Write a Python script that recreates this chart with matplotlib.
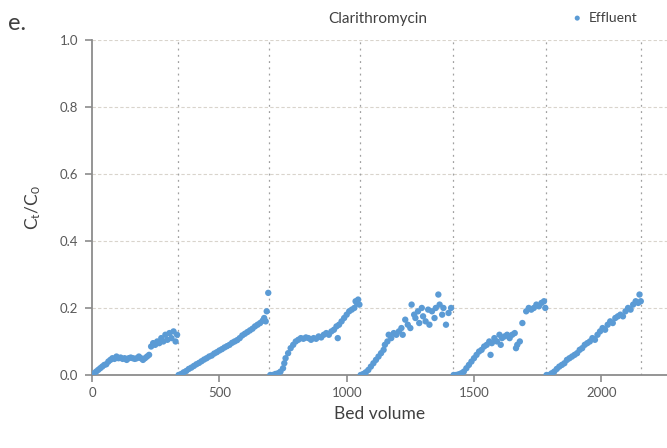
import matplotlib
matplotlib.use("Agg")
import matplotlib.pyplot as plt

plt.rcParams['font.family'] = ['Lato', 'DejaVu Sans']

# Effluent breakthrough for each loading cycle: bed volume and Ct/C0
cycle1_bv = [0, 8, 16, 24, 32, 40, 48, 56, 64, 72, 80, 88, 96, 104, 112, 120, 128, 136, 144, 152,
             160, 168, 176, 184, 192, 200, 208, 216, 224, 232, 240, 248, 256, 264, 272, 280, 288,
             296, 304, 312, 320, 328, 334]
cycle1_c = [0.0, 0.005, 0.01, 0.015, 0.02, 0.025, 0.03, 0.032, 0.04, 0.045, 0.05, 0.048, 0.055,
            0.05, 0.052, 0.048, 0.05, 0.045, 0.05, 0.052, 0.05, 0.048, 0.05, 0.055, 0.05, 0.045,
            0.05, 0.055, 0.06, 0.085, 0.095, 0.09, 0.1, 0.095, 0.11, 0.1, 0.12, 0.105, 0.125, 0.11,
            0.13, 0.1, 0.12]

cycle2_bv = [340, 350, 360, 370, 380, 390, 400, 410, 420, 430, 440, 450, 460, 470, 480, 490, 500,
             510, 520, 530, 540, 550, 560, 570, 580, 590, 600, 610, 620, 630, 640, 650, 660, 670,
             676, 682, 686, 692]
cycle2_c = [0.0, 0.003, 0.008, 0.012, 0.018, 0.022, 0.027, 0.032, 0.036, 0.041, 0.046, 0.05, 0.055,
            0.058, 0.064, 0.068, 0.073, 0.077, 0.082, 0.086, 0.09, 0.096, 0.1, 0.104, 0.11, 0.118,
            0.123, 0.128, 0.133, 0.138, 0.145, 0.15, 0.155, 0.162, 0.17, 0.16, 0.19, 0.245]

cycle3_bv = [700, 710, 720, 730, 740, 750, 755, 760, 770, 780, 790, 800, 810, 820, 830, 840, 850,
             860, 870, 880, 890, 900, 910, 920, 930, 940, 950, 960, 965, 970, 980, 990, 1000, 1010,
             1020, 1030, 1035, 1040, 1045, 1050]
cycle3_c = [0.0, 0.0, 0.003, 0.005, 0.01, 0.02, 0.035, 0.05, 0.065, 0.08, 0.09, 0.1, 0.105, 0.11,
            0.108, 0.112, 0.11, 0.105, 0.11, 0.108, 0.115, 0.112, 0.12, 0.125, 0.12, 0.13, 0.135,
            0.145, 0.11, 0.15, 0.16, 0.17, 0.18, 0.19, 0.195, 0.2, 0.22, 0.215, 0.225, 0.21]

cycle4_bv = [1055, 1065, 1075, 1085, 1095, 1105, 1115, 1125, 1135, 1145, 1150, 1160, 1165, 1175,
             1185, 1195, 1205, 1215, 1220, 1230, 1240, 1250, 1255, 1265, 1270, 1280, 1285, 1295,
             1300, 1310, 1320, 1325, 1335, 1345, 1350, 1360, 1365, 1375, 1380, 1390, 1400, 1410]
cycle4_c = [0.0, 0.003, 0.008, 0.015, 0.025, 0.035, 0.045, 0.055, 0.065, 0.075, 0.09, 0.1, 0.12,
            0.11, 0.125, 0.12, 0.13, 0.14, 0.12, 0.165, 0.15, 0.14, 0.21, 0.18, 0.17, 0.19, 0.155,
            0.2, 0.175, 0.16, 0.195, 0.15, 0.19, 0.17, 0.2, 0.24, 0.21, 0.18, 0.2, 0.15, 0.185, 0.2]

cycle5_bv = [1420, 1430, 1440, 1450, 1460, 1470, 1480, 1490, 1500, 1510, 1520, 1530, 1540, 1550,
             1560, 1565, 1570, 1580, 1590, 1600, 1605, 1610, 1620, 1630, 1640, 1650, 1660, 1665,
             1670, 1680, 1690, 1705, 1715, 1725, 1735, 1745, 1755, 1765, 1775, 1780]
cycle5_c = [0.0, 0.0, 0.002, 0.005, 0.01, 0.02, 0.03, 0.04, 0.05, 0.06, 0.07, 0.075, 0.085, 0.09,
            0.1, 0.06, 0.095, 0.11, 0.1, 0.12, 0.09, 0.11, 0.115, 0.12, 0.11, 0.12, 0.125, 0.08,
            0.09, 0.1, 0.155, 0.19, 0.2, 0.195, 0.2, 0.21, 0.205, 0.215, 0.22, 0.2]

cycle6_bv = [1785, 1795, 1805, 1815, 1825, 1835, 1845, 1855, 1865, 1875, 1885, 1895, 1905, 1915,
             1925, 1935, 1945, 1955, 1965, 1975, 1985, 1995, 2005, 2015, 2025, 2035, 2045, 2055,
             2065, 2075, 2085, 2095, 2105, 2115, 2125, 2135, 2145, 2150, 2155]
cycle6_c = [0.0, 0.0, 0.005, 0.01, 0.018, 0.025, 0.03, 0.035, 0.045, 0.05, 0.055, 0.06, 0.065,
            0.075, 0.08, 0.09, 0.095, 0.1, 0.11, 0.105, 0.12, 0.13, 0.14, 0.135, 0.15, 0.16, 0.155,
            0.17, 0.175, 0.18, 0.175, 0.19, 0.2, 0.195, 0.21, 0.22, 0.215, 0.24, 0.22]

# End of each loading cycle (regeneration points)
cycle_ends = [338, 695, 1052, 1417, 1782, 2155]

bed_volume = cycle1_bv + cycle2_bv + cycle3_bv + cycle4_bv + cycle5_bv + cycle6_bv
ratio = cycle1_c + cycle2_c + cycle3_c + cycle4_c + cycle5_c + cycle6_c

blue = '#5B9BD5'
text_dark = '#404040'
axis_grey = '#8c8c8c'

fig = plt.figure(figsize=(6.67, 4.48), dpi=100)
ax = fig.add_axes([0.138, 0.163, 0.862, 0.748])

for xe in cycle_ends:
    ax.axvline(xe, color='#a0a0a0', lw=0.9, linestyle=(0, (1.5, 3.5)), zorder=1)
for yv in [0.2, 0.4, 0.6, 0.8, 1.0]:
    ax.axhline(yv, color='#d9d4cc', lw=0.8, linestyle=(0, (3, 2)), zorder=0.5)

ax.scatter(bed_volume, ratio, s=21, color=blue, edgecolors='none', zorder=3,
           label='Effluent')

ax.set_xlim(0, 2258)
ax.set_ylim(0, 1.0)
ax.set_xticks([0, 500, 1000, 1500, 2000])
ax.set_yticks([0.0, 0.2, 0.4, 0.6, 0.8, 1.0])
ax.set_yticklabels(['0.0', '0.2', '0.4', '0.6', '0.8', '1.0'])

for side in ['top', 'right']:
    ax.spines[side].set_visible(False)
for side in ['left', 'bottom']:
    ax.spines[side].set_color(axis_grey)
    ax.spines[side].set_linewidth(1.3)

ax.tick_params(axis='both', colors=axis_grey, labelcolor='#595959', labelsize=9.5,
               direction='out', length=5, width=1.2)
ax.tick_params(axis='y', pad=5)

ax.set_xlabel('Bed volume', fontsize=12.5, color=text_dark, labelpad=5)
ax.set_ylabel(r'$\mathregular{C_t/C_0}$', fontsize=12.5, color=text_dark, labelpad=12)

fig.text(0.567, 0.958, 'Clarithromycin', ha='center', va='center', fontsize=11,
         color=text_dark)
fig.text(0.012, 0.948, 'e.', ha='left', va='center', fontsize=17, color=text_dark)

leg = ax.legend(loc='center right', bbox_to_anchor=(0.948, 1.066), frameon=False,
                fontsize=10, handletextpad=0.3, markerscale=0.8, borderaxespad=0,
                borderpad=0, handlelength=1.0)
for t in leg.get_texts():
    t.set_color(text_dark)

fig.savefig('out.png', dpi=100, facecolor='white')
